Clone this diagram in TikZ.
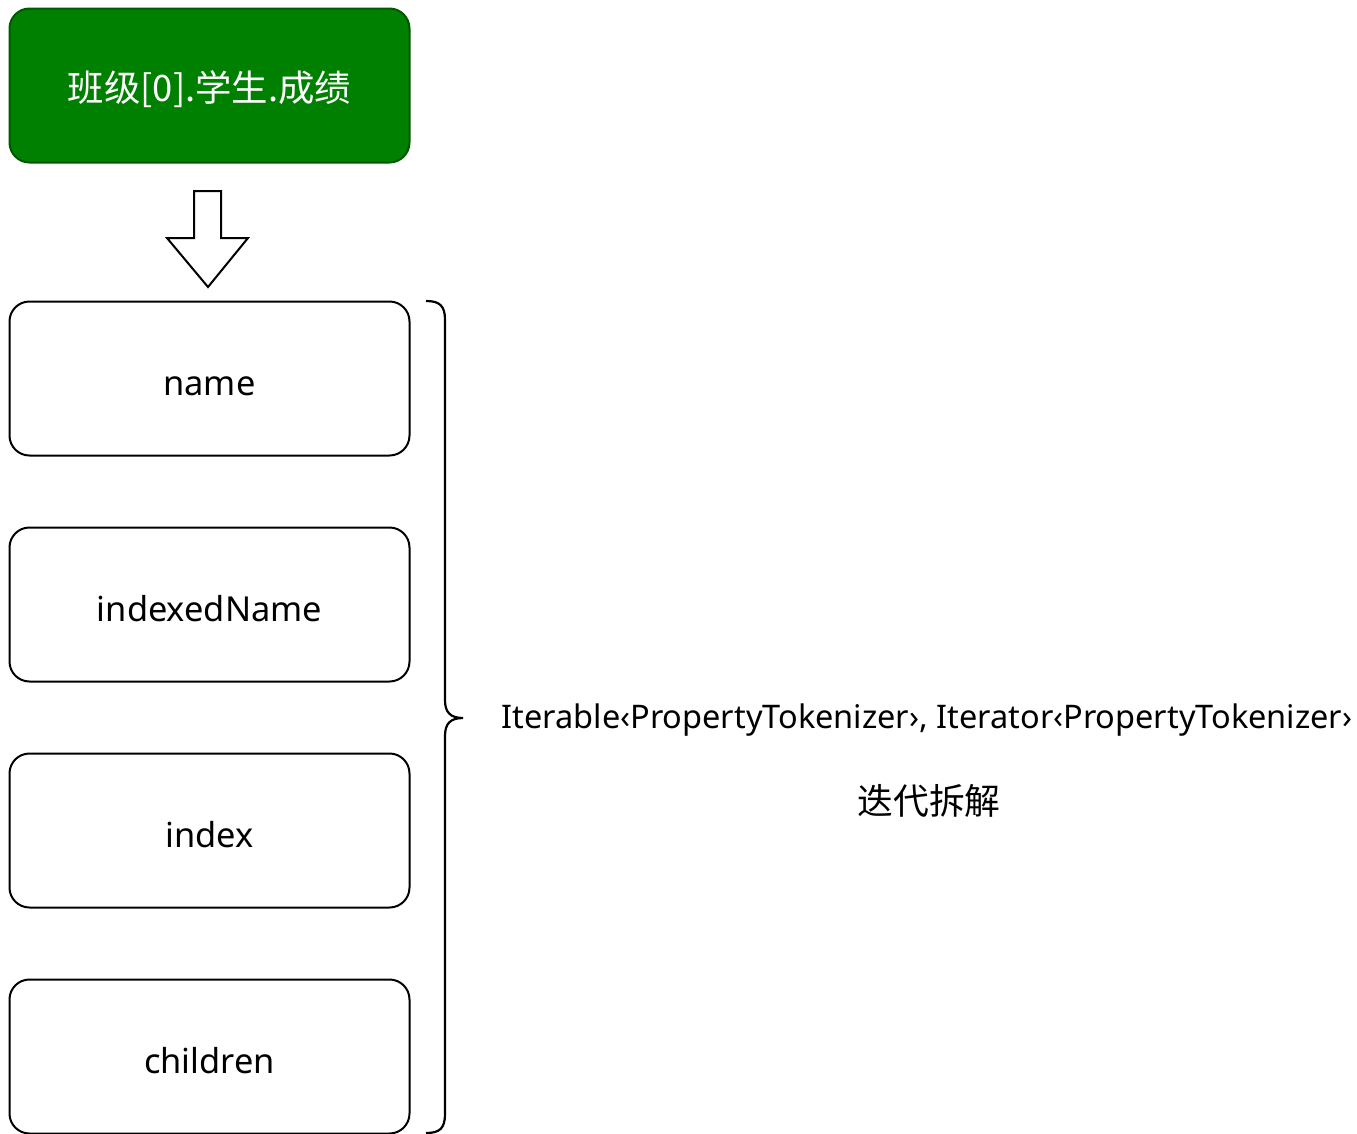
\documentclass[tikz,border=0pt]{standalone}
\usepackage{fontspec}
\setmainfont{Noto Sans}
\newfontfamily\cjk{Noto Sans CJK SC}
\begin{document}
\begin{tikzpicture}[x=1pt,y=-1pt,
  fieldbox/.style={draw=black, line width=2pt, rounded corners=20pt, minimum width=400pt, minimum height=154pt, inner sep=0pt, text height=33pt, text depth=0pt, font=\fontsize{34.4}{40}\selectfont},
  headbox/.style={fieldbox, fill=green!50!black, draw=green!35!black, text=white, text height=31pt, font=\cjk\fontsize{36.4}{42}\selectfont}]
\useasboundingbox (0,0) rectangle (1357,1133);
\fill[white] (0,0) rectangle (1357,1133);
\node[headbox] (head) at (209.5,85.5) {班级[0].学生.成绩};
\node[fieldbox] (name) at (209.5,378.5) {name};
\node[fieldbox] (idxname) at (209.5,604.5) {indexedName};
\node[fieldbox] (index) at (209.5,830.5) {index};
\node[fieldbox] (children) at (209.5,1056.5) {children};
\draw[line width=2pt, fill=white, line join=miter] (194,191) -- (221,191) -- (221,238) -- (248,238) -- (208,287) -- (167,238) -- (194,238) -- cycle;
\draw[line width=2.2pt] (426,301) .. controls (440,301) and (445,306) .. (445,320) -- (445,700) .. controls (445,712) and (450,718) .. (463,718)
  (463,718) .. controls (450,718) and (445,724) .. (445,736) -- (445,1114) .. controls (445,1128) and (440,1133) .. (426,1133);
\node[font=\fontsize{32.5}{38}\selectfont] (type) at (927,720) {Iterable‹PropertyTokenizer›, Iterator‹PropertyTokenizer›};
\node[font=\cjk\fontsize{35.8}{42}\selectfont] (label) at (929,801) {迭代拆解};
\end{tikzpicture}
\end{document}
